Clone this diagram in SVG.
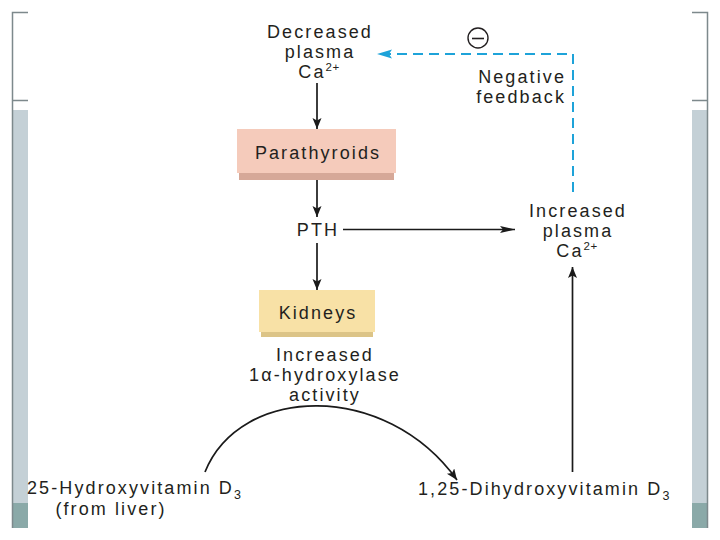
<svg xmlns="http://www.w3.org/2000/svg" width="720" height="540" viewBox="0 0 720 540">
<defs>
<style>
text{font-family:"Liberation Sans",Arial,sans-serif;font-size:18px;letter-spacing:2.1px;fill:#231f20}
.c{text-anchor:middle}
.e{text-anchor:end}
.sup{font-size:11.5px;letter-spacing:0.5px}
.sub{font-size:12.5px;letter-spacing:0}
.ln{fill:none;stroke:#1a1a1a;stroke-width:1.7}
.dash{fill:none;stroke:#1ea3d9;stroke-width:2;stroke-dasharray:10 6}
.frame{fill:none;stroke:#7d898c;stroke-width:1.5}
</style>
<marker id="arr" markerUnits="userSpaceOnUse" markerWidth="12" markerHeight="10" refX="11" refY="4.5" orient="auto">
<path d="M0,0 L11,4.5 L0,9 L2.5,4.5 z" fill="#1a1a1a"/>
</marker>
<marker id="arrL" markerUnits="userSpaceOnUse" markerWidth="16" markerHeight="8" refX="15" refY="3.5" orient="auto">
<path d="M0,0 L15,3.5 L0,7 L3,3.5 z" fill="#1a1a1a"/>
</marker>
<marker id="arrB" markerUnits="userSpaceOnUse" markerWidth="16" markerHeight="10" refX="15" refY="4.5" orient="auto">
<path d="M0,0 L15,4.5 L0,9 L3,4.5 z" fill="#1ea3d9"/>
</marker>
</defs>

<g id="frame">
<rect x="12" y="110" width="16" height="393" fill="#c4d0d6"/>
<rect x="12" y="503" width="16" height="25" fill="#8aa9a8"/>
<rect x="692" y="110" width="15.5" height="393" fill="#c4d0d6"/>
<rect x="692" y="503" width="15.5" height="25" fill="#8aa9a8"/>
<path class="frame" d="M28,12.5 H12.5 V528 M12.5,100.5 H28"/>
<path class="frame" d="M692,12.5 H707.5 V528 M707.5,100.5 H692"/>
</g>

<g id="connectors">
<path class="ln" d="M317,83 L317,129" marker-end="url(#arr)"/>
<path class="ln" d="M317,180 L317,217" marker-end="url(#arr)"/>
<path class="ln" d="M317,243 L317,290" marker-end="url(#arr)"/>
<path class="ln" d="M343,229.5 L515,229.5" marker-end="url(#arrL)"/>
<path class="ln" d="M572.5,472 L572.5,267" marker-end="url(#arr)"/>
<path class="ln" d="M205,472 C240,385 385,380 457,480" marker-end="url(#arr)"/>
<path class="dash" d="M573,192 L573,54 L377,54" marker-end="url(#arrB)"/>
</g>

<g id="decreased">
<text class="c" x="320" y="37.6">Decreased</text>
<text class="c" x="320" y="58">plasma</text>
<text class="c" x="319" y="78.4">Ca<tspan class="sup" dy="-7">2+</tspan></text>
</g>

<g id="negative-feedback">
<circle cx="478" cy="38" r="10" fill="none" stroke="#231f20" stroke-width="1.4"/>
<line x1="472" y1="38.5" x2="484" y2="38.5" stroke="#231f20" stroke-width="1.6"/>
<text class="e" x="566" y="82.8">Negative</text>
<text class="e" x="566" y="103.2">feedback</text>
</g>

<g id="parathyroids">
<rect x="239" y="171" width="155" height="9" fill="#d6a898"/>
<rect x="237" y="129" width="159" height="44" fill="#f5cbbb"/>
<text class="c" x="318" y="159">Parathyroids</text>
</g>

<g id="pth">
<text class="c" x="318" y="236">PTH</text>
</g>

<g id="kidneys">
<rect x="261" y="330" width="112" height="7" fill="#dcc487"/>
<rect x="259" y="290" width="116" height="42" fill="#f8e1a6"/>
<text class="c" x="318" y="319">Kidneys</text>
</g>

<g id="hydroxylase">
<text class="c" x="325" y="360.6">Increased</text>
<text class="c" x="325" y="380.8">1α-hydroxylase</text>
<text class="c" x="325" y="401">activity</text>
</g>

<g id="increased">
<text class="c" x="578" y="216.6">Increased</text>
<text class="c" x="578" y="236.8">plasma</text>
<text class="c" x="577" y="257">Ca<tspan class="sup" dy="-7">2+</tspan></text>
</g>

<g id="hydroxyvitamin">
<text x="27" y="494">25-Hydroxyvitamin D<tspan class="sub" dy="5">3</tspan></text>
<text class="c" x="111" y="514.5">(from liver)</text>
</g>

<g id="dihydroxyvitamin">
<text x="418" y="495">1,25-Dihydroxyvitamin D<tspan class="sub" dy="5">3</tspan></text>
</g>
</svg>
